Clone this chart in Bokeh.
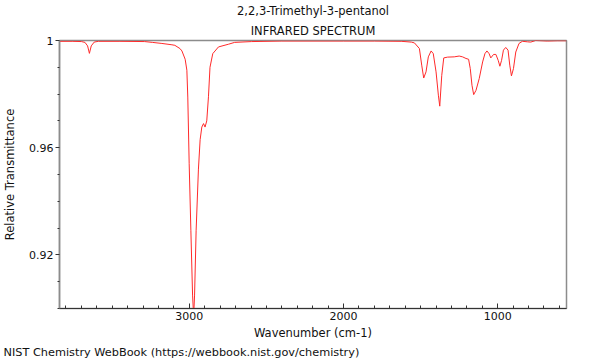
from bokeh.plotting import figure
from bokeh.models import Range1d, FixedTicker, Title, CustomJSTickFormatter
from bokeh.embed import file_html
from bokeh.resources import INLINE

# ---- data ----
wavenumber = [3842, 3760, 3700, 3677, 3660, 3648, 3636, 3617, 3590, 3450, 3290, 3240,
              3178, 3113, 3094, 3061, 3048, 3027, 3016, 3010, 3001, 2990, 2979, 2972,
              2966, 2956, 2941, 2930, 2919, 2908, 2898, 2887, 2876, 2866, 2848, 2811,
              2747, 2706, 2596, 2400, 2000, 1800, 1626, 1560, 1540, 1508, 1493, 1480,
              1465, 1450, 1432, 1418, 1400, 1385, 1376, 1363, 1350, 1325, 1282, 1250,
              1228, 1206, 1189, 1178, 1167, 1156, 1141, 1120, 1098, 1083, 1070, 1056,
              1045, 1027, 1012, 997, 986, 975, 963, 948, 933, 922, 911, 898, 883, 862,
              840, 807, 786, 754, 678, 613, 554]
transmittance = [0.9997, 0.9997, 0.9996, 0.9993, 0.9980, 0.9952, 0.9980, 0.9994, 0.9997,
                 0.9997, 0.9996, 0.9993, 0.9989, 0.9984, 0.9982, 0.9970, 0.9961, 0.9930,
                 0.9889, 0.9789, 0.954, 0.929, 0.905, 0.897, 0.905, 0.929, 0.952, 0.963,
                 0.9677, 0.969, 0.9677, 0.970, 0.979, 0.990, 0.9951, 0.9976, 0.9986,
                 0.9993, 0.9996, 0.9998, 0.9998, 0.9998, 0.9997, 0.9994, 0.9991, 0.997,
                 0.9908, 0.986, 0.9883, 0.9939, 0.9961, 0.9951, 0.9883, 0.9796, 0.9755,
                 0.987, 0.9935, 0.9938, 0.9939, 0.9942, 0.9939, 0.9933, 0.993, 0.9895,
                 0.9833, 0.9798, 0.9814, 0.9858, 0.992, 0.9951, 0.9961, 0.9951, 0.9935,
                 0.9948, 0.9948, 0.9926, 0.9904, 0.9926, 0.9964, 0.9974, 0.9964, 0.9908,
                 0.9868, 0.9895, 0.9957, 0.9989, 0.9997, 0.9995, 0.9994, 1.0, 0.9998,
                 0.9999, 0.9999]

x_major_ticks = [1000, 2000, 3000]
x_minor_ticks = [600, 700, 800, 900, 1000, 1100, 1200, 1300, 1400, 1500, 1600, 1700, 1800,
                 1900, 2000, 2100, 2200, 2300, 2400, 2500, 2600, 2700, 2800, 2900, 3000,
                 3100, 3200, 3300, 3400, 3500, 3600, 3700, 3800]
y_major_ticks = [0.92, 0.96, 1.0]
y_minor_ticks = [0.90, 0.91, 0.93, 0.94, 0.95, 0.97, 0.98, 0.99]

title_lines = ["2,2,3-Trimethyl-3-pentanol", "INFRARED SPECTRUM"]
x_label = "Wavenumber (cm-1)"
y_label = "Relative Transmittance"
footer = "NIST Chemistry WebBook (https://webbook.nist.gov/chemistry)"

FONT = "DejaVu Sans"
TXT = "#111111"

p = figure(width=600, height=360, output_backend="svg", toolbar_location=None,
           x_range=Range1d(3842, 554), y_range=Range1d(0.9, 1.0),
           min_border_left=57, min_border_right=34, min_border_top=40,
           min_border_bottom=52, background_fill_color="white",
           border_fill_color="white")

p.line(wavenumber, transmittance, line_color="#ff2a2a", line_width=1)

p.grid.visible = False
p.outline_line_color = "#8c8c8c"
p.outline_line_width = 1.5

# x axis
xa = p.xaxis[0]
xa.ticker = FixedTicker(ticks=x_major_ticks, minor_ticks=x_minor_ticks)
xa.axis_line_color = "#333333"
xa.major_tick_in = 5
xa.major_tick_out = 0
xa.minor_tick_in = 3
xa.minor_tick_out = 0
xa.major_tick_line_color = "#333333"
xa.minor_tick_line_color = "#333333"
xa.major_label_text_font = FONT
xa.major_label_text_font_size = "11px"
xa.major_label_text_color = TXT
xa.major_label_standoff = 3
xa.axis_label = x_label
xa.axis_label_text_font = FONT
xa.axis_label_text_font_size = "11.5px"
xa.axis_label_text_font_style = "normal"
xa.axis_label_text_color = TXT
xa.axis_label_standoff = 3

# y axis
ya = p.yaxis[0]
ya.ticker = FixedTicker(ticks=y_major_ticks, minor_ticks=y_minor_ticks)
ya.formatter = CustomJSTickFormatter(code="return String(Math.round(tick*100)/100)")
ya.axis_line_color = "#8c8c8c"
ya.axis_line_width = 1.5
ya.major_tick_in = 0
ya.major_tick_out = 4
ya.minor_tick_in = 0
ya.minor_tick_out = 2
ya.major_tick_line_color = "#333333"
ya.minor_tick_line_color = "#333333"
ya.major_label_text_font = FONT
ya.major_label_text_font_size = "11px"
ya.major_label_text_color = TXT
ya.major_label_standoff = 2
ya.axis_label = y_label
ya.axis_label_text_font = FONT
ya.axis_label_text_font_size = "11.5px"
ya.axis_label_text_font_style = "normal"
ya.axis_label_text_color = TXT
ya.axis_label_standoff = 9

# titles (the later one sits farther from the frame)
p.add_layout(Title(text=title_lines[1], align="center", text_font=FONT,
                   text_font_size="11.5px", text_font_style="normal",
                   text_color=TXT, standoff=6), "above")
p.add_layout(Title(text=title_lines[0], align="center", text_font=FONT,
                   text_font_size="11.5px", text_font_style="normal",
                   text_color=TXT, standoff=1), "above")

# footer below the x axis
p.add_layout(Title(text=footer, align="left", offset=-56, text_font=FONT,
                   text_font_size="11.3px", text_font_style="normal",
                   text_color=TXT, standoff=2), "below")

open("out.html", "w").write(file_html(p, INLINE))
